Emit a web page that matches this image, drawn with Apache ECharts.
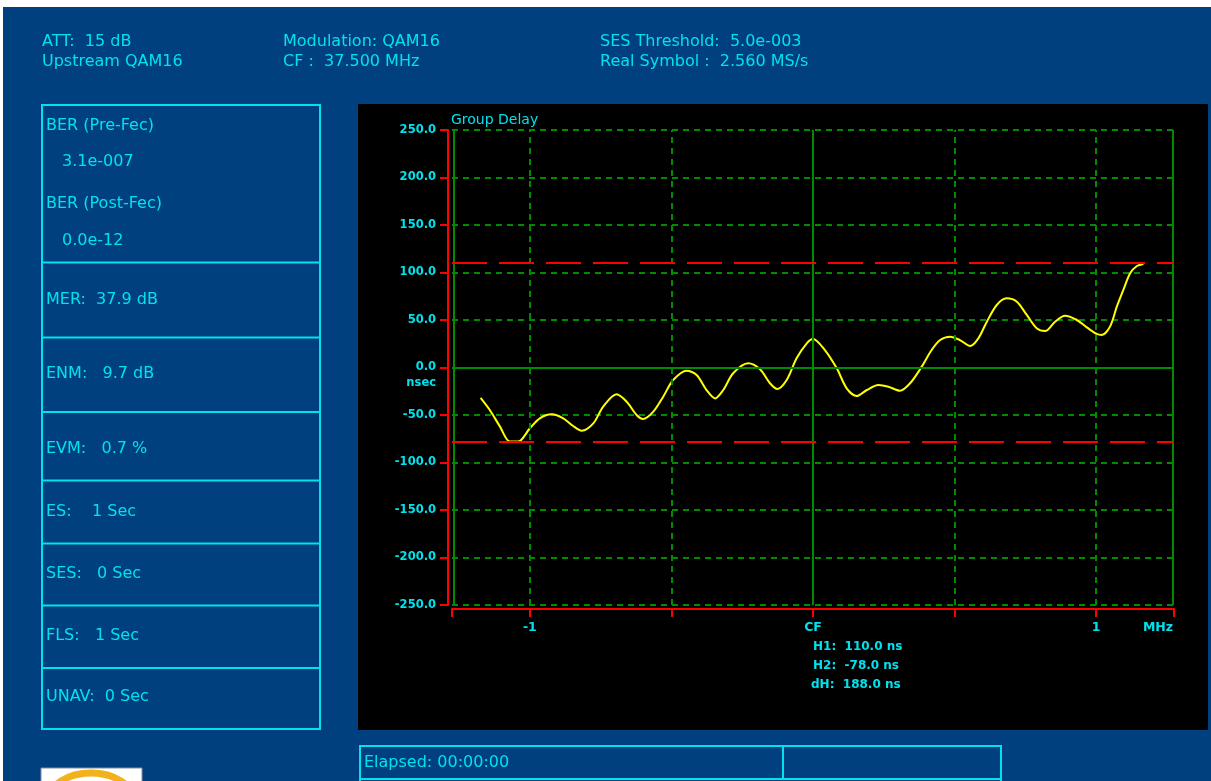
<!DOCTYPE html>
<html>
<head>
<meta charset="utf-8">
<style>
html,body{margin:0;padding:0;background:#ffffff;}
#c{position:absolute;left:0;top:0;width:1211px;height:781px;}
</style>
<script src="https://cdn.jsdelivr.net/npm/echarts@6/dist/echarts.min.js"></script>
</head>
<body>
<div id="c"></div>
<script>
// ---- data ----
const freqMHz = [-1.174,-1.141,-1.106,-1.071,-1.041,-1.0,-0.965,-0.923,-0.882,-0.847,-0.817,-0.776,-0.741,-0.694,-0.658,-0.623,-0.600,-0.564,-0.529,-0.494,-0.446,-0.411,-0.376,-0.346,-0.317,-0.282,-0.229,-0.187,-0.152,-0.126,-0.093,-0.058,-0.022,0.0,0.042,0.084,0.119,0.154,0.190,0.231,0.266,0.307,0.343,0.384,0.419,0.449,0.484,0.519,0.555,0.584,0.614,0.649,0.684,0.720,0.755,0.790,0.820,0.855,0.890,0.932,0.967,1.002,1.020,1.049,1.073,1.096,1.120,1.144,1.167];
const groupDelay = [-32,-45,-62,-78,-78,-64,-53.5,-49.3,-53.5,-61.6,-66.5,-58.8,-41.2,-28.2,-36,-50,-54.2,-46.5,-30.7,-13.2,-3.3,-7.9,-23.7,-32.5,-23.7,-6.1,4.4,-1.9,-16.6,-22.6,-13.2,9.7,25.5,30,18.4,-0.9,-21.9,-30,-23.7,-18.4,-20.2,-24.4,-16.6,0.9,18.4,28.9,32.4,28.9,22.6,30.7,48.2,65.8,72.8,69.3,55.3,41.3,38.4,48.2,54.5,50,42.3,35.3,34.2,43,64,81.6,99.2,106.8,109];
const xMin = -1.275, xMax = 1.275;
const yMin = -250, yMax = 250, yStep = 50;
const xTickValues = [-1.275, -1, -0.5, 0, 0.5, 1, 1.275];
const xLabelValues = [-1, 0, 1];
const xLabelText = {'-1': '-1', '0': 'CF', '1': '1'};
const xDashedGrid = [-1, -0.5, 0.5, 1];
const xSolidGrid = [-1.275, 0, 1.275];
const markerH1 = 110, markerH2 = -78;
const headerLines = [
  ['ATT:  15 dB', 'Upstream QAM16'],
  ['Modulation: QAM16', 'CF :  37.500 MHz'],
  ['SES Threshold:  5.0e-003', 'Real Symbol :  2.560 MS/s']
];
const panelTexts = [
  ['BER (Pre-Fec)', 46, 126], ['3.1e-007', 62, 162], ['BER (Post-Fec)', 46, 204], ['0.0e-12', 62, 241],
  ['MER:  37.9 dB', 46, 300], ['ENM:   9.7 dB', 46, 374], ['EVM:   0.7 %', 46, 449],
  ['ES:    1 Sec', 46, 512], ['SES:   0 Sec', 46, 574], ['FLS:   1 Sec', 46, 636], ['UNAV:  0 Sec', 46, 697]
];
const panelDividers = [262.5, 337.5, 412, 480.5, 543.5, 605.5, 668];
const markerTexts = ['H1:  110.0 ns', 'H2:  -78.0 ns', 'dH:  188.0 ns'];

// ---- styles ----
const CYAN = '#00e2ee';
const GREEN = '#008c00';
const RED = '#ff0000';
const FONT = '"DejaVu Sans", sans-serif';

const chart = echarts.init(document.getElementById('c'), null, {renderer: 'canvas'});

const graphics = [];
graphics.push({type: 'rect', z: -100, silent: true, shape: {x: 3, y: 7, width: 1208, height: 774}, style: {fill: '#00407f'}});
graphics.push({type: 'rect', z: -90, silent: true, shape: {x: 358, y: 104, width: 850, height: 626}, style: {fill: '#000000'}});
const hx = [42, 283, 600];
headerLines.forEach((pair, i) => {
  pair.forEach((t, j) => {
    graphics.push({type: 'text', z: 10, silent: true, x: hx[i], y: 42 + j * 20,
      style: {text: t, fill: CYAN, font: '16px ' + FONT, textVerticalAlign: 'middle'}});
  });
});
graphics.push({type: 'rect', z: 5, silent: true, shape: {x: 42, y: 105, width: 278, height: 624}, style: {fill: null, stroke: CYAN, lineWidth: 2}});
panelDividers.forEach(y => {
  graphics.push({type: 'line', z: 5, silent: true, shape: {x1: 42, y1: y, x2: 320, y2: y}, style: {stroke: CYAN, lineWidth: 2}});
});
panelTexts.forEach(p => {
  graphics.push({type: 'text', z: 10, silent: true, x: p[1], y: p[2],
    style: {text: p[0], fill: CYAN, font: '16px ' + FONT, textVerticalAlign: 'middle'}});
});
graphics.push({type: 'text', z: 10, silent: true, x: 451, y: 120, style: {text: 'Group Delay', fill: CYAN, font: '14px ' + FONT, textVerticalAlign: 'middle'}});
graphics.push({type: 'text', z: 10, silent: true, x: 436, y: 383, style: {text: 'nsec', fill: CYAN, font: 'bold 11.5px ' + FONT, textAlign: 'right', textVerticalAlign: 'middle'}});
graphics.push({type: 'text', z: 10, silent: true, x: 1158, y: 628, style: {text: 'MHz', fill: CYAN, font: 'bold 12.5px ' + FONT, textAlign: 'center', textVerticalAlign: 'middle'}});
markerTexts.forEach((t, i) => {
  graphics.push({type: 'text', z: 10, silent: true, x: i === 2 ? 811 : 813, y: 647 + i * 19,
    style: {text: t, fill: CYAN, font: 'bold 12px ' + FONT, textVerticalAlign: 'middle'}});
});
graphics.push({type: 'rect', z: 5, silent: true, shape: {x: 360, y: 746, width: 641, height: 40}, style: {fill: null, stroke: CYAN, lineWidth: 2}});
graphics.push({type: 'line', z: 5, silent: true, shape: {x1: 360, y1: 779, x2: 1001, y2: 779}, style: {stroke: CYAN, lineWidth: 2}});
graphics.push({type: 'line', z: 5, silent: true, shape: {x1: 783, y1: 746, x2: 783, y2: 779}, style: {stroke: CYAN, lineWidth: 2}});
graphics.push({type: 'text', z: 10, silent: true, x: 364, y: 763, style: {text: 'Elapsed: 00:00:00', fill: CYAN, font: '16px ' + FONT, textVerticalAlign: 'middle'}});
graphics.push({type: 'rect', z: 5, silent: true, shape: {x: 41, y: 768, width: 101, height: 20}, style: {fill: '#ffffff', stroke: '#8090a0', lineWidth: 1}});
graphics.push({type: 'ellipse', z: 6, silent: true, shape: {cx: 91, cy: 800, rx: 42, ry: 27}, style: {fill: null, stroke: '#f2b21c', lineWidth: 7}});

const markData = [];
xDashedGrid.forEach(v => markData.push({xAxis: v, lineStyle: {color: GREEN, width: 2, type: [6, 5]}}));
xSolidGrid.forEach(v => markData.push({xAxis: v, lineStyle: {color: GREEN, width: 2, type: 'solid'}}));
markData.push({yAxis: 0, lineStyle: {color: GREEN, width: 2, type: 'solid'}});
markData.push({yAxis: markerH1, lineStyle: {color: RED, width: 2, type: [35, 12]}});
markData.push({yAxis: markerH2, lineStyle: {color: RED, width: 2, type: [35, 12]}});

const option = {
  backgroundColor: '#ffffff',
  animation: false,
  textStyle: {fontFamily: FONT},
  grid: {left: 452, right: 37, top: 130, bottom: 176, containLabel: false},
  graphic: {elements: graphics},
  xAxis: {
    type: 'value', min: xMin, max: xMax, position: 'bottom', offset: 4,
    axisLine: {show: true, onZero: false, lineStyle: {color: RED, width: 2}},
    axisTick: {show: true, length: 8, customValues: xTickValues, lineStyle: {color: RED, width: 2}},
    axisLabel: {show: true, customValues: xLabelValues, margin: 12, color: CYAN, fontWeight: 'bold', fontSize: 12.5, fontFamily: FONT,
      formatter: v => xLabelText[String(Math.round(v))] || ''},
    splitLine: {show: false}
  },
  yAxis: {
    type: 'value', min: yMin, max: yMax, interval: yStep, position: 'left', offset: 4,
    axisLine: {show: true, onZero: false, lineStyle: {color: RED, width: 2}},
    axisTick: {show: true, length: 8, lineStyle: {color: RED, width: 2}},
    axisLabel: {show: true, margin: 12, color: CYAN, fontWeight: 'bold', fontSize: 11.5, fontFamily: FONT,
      formatter: v => v.toFixed(1)},
    splitLine: {show: true, lineStyle: {color: GREEN, width: 2, type: [6, 5]}}
  },
  series: [
    {
      type: 'line', name: 'grid', data: [], silent: true, z: 1,
      markLine: {silent: true, symbol: 'none', label: {show: false}, animation: false, data: markData}
    },
    {
      type: 'line', name: 'Group Delay', z: 3,
      data: freqMHz.map((f, i) => [f, groupDelay[i]]),
      smooth: 0.3, showSymbol: false, silent: true,
      lineStyle: {color: '#ffff00', width: 2}
    }
  ]
};
chart.setOption(option);
</script>
</body>
</html>
